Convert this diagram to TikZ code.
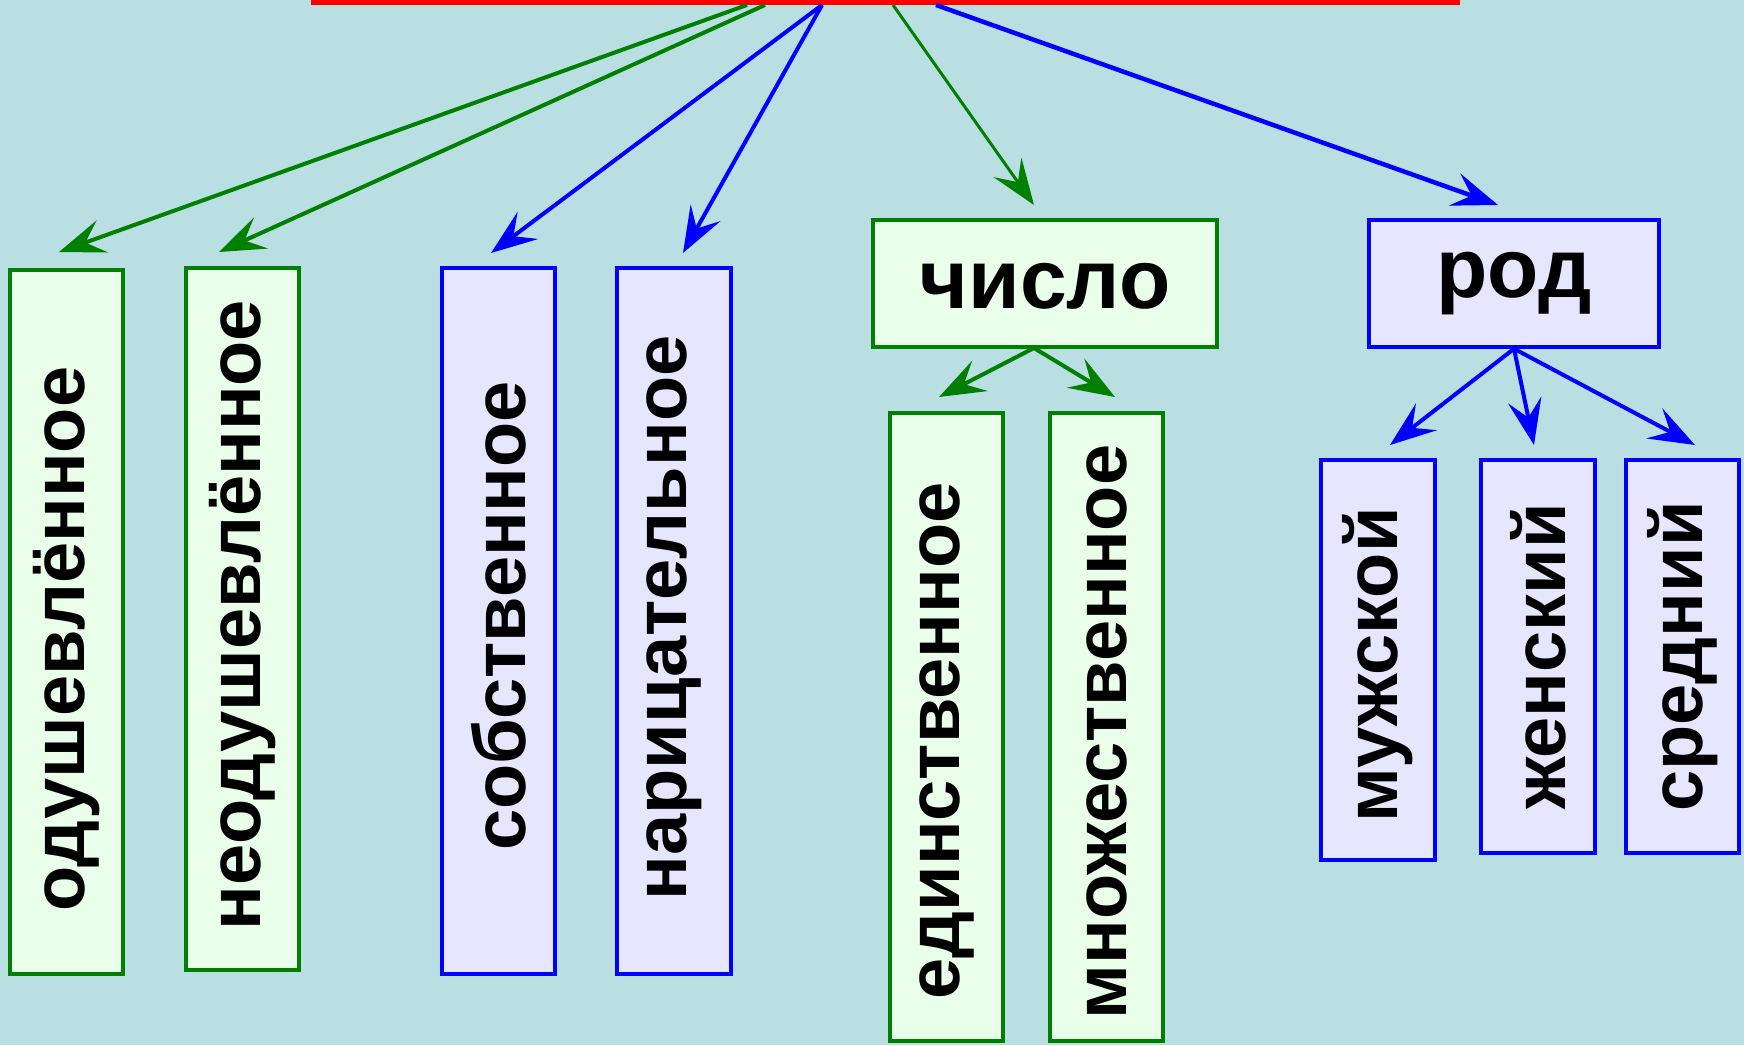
\documentclass[tikz,border=0pt]{standalone}
\usepackage{fontspec}
\setmainfont{Liberation Sans}
\usetikzlibrary{arrows.meta}
\definecolor{bgc}{RGB}{185,223,227}
\definecolor{gline}{RGB}{0,128,0}
\definecolor{gfill}{RGB}{234,255,234}
\definecolor{bline}{RGB}{0,0,255}
\definecolor{bfill}{RGB}{230,230,255}
\tikzset{
  gbox/.style={draw=gline, fill=gfill, line width=3.5pt, inner sep=0pt},
  bbox/.style={draw=bline, fill=bfill, line width=3.5pt, inner sep=0pt},
  vtext/.style={rotate=90, font=\fontsize{74}{78}\selectfont\bfseries},
  htext/.style={font=\fontsize{84}{88}\selectfont\bfseries},
  garrow/.style={draw=gline, line width=4pt, -{Stealth[length=46pt,width=34pt,inset=18pt]}},
  barrow/.style={draw=bline, line width=4pt, -{Stealth[length=46pt,width=34pt,inset=18pt]}},
}
\begin{document}
\begin{tikzpicture}[x=1pt,y=-1pt]
\useasboundingbox[fill=bgc] (0,0) rectangle (1744,1045);
% red top bar
\node[fill=red, inner sep=0pt, minimum width=1149pt, minimum height=10pt] (top) at (885.5,0) {};
% boxes (rotated: width = vertical length)
\node[gbox, vtext, minimum width=704pt, minimum height=113pt] (odu) at (66.5,622) {одушевлённое\hspace*{34pt}};
\node[gbox, vtext, minimum width=702pt, minimum height=113pt] (neodu) at (242.5,619) {\hspace*{8pt}неодушевлённое};
\node[bbox, vtext, minimum width=706pt, minimum height=113pt] (sob) at (498.5,621) {\hspace*{10pt}собственное};
\node[bbox, vtext, minimum width=706pt, minimum height=114pt] (nar) at (674,621) {\hspace*{6pt}нарицательное};
\node[gbox, htext, minimum width=344pt, minimum height=127pt, text height=50pt, text depth=0pt] (chislo) at (1045,283.5) {число};
\node[bbox, htext, minimum width=290pt, minimum height=127pt] (rod) at (1514,283.5) {род};
\node[gbox, vtext, minimum width=628pt, minimum height=113pt] (edin) at (946.5,727) {единственное\hspace*{28pt}};
\node[gbox, vtext, minimum width=628pt, minimum height=113pt] (mnozh) at (1106.5,727) {множественное\hspace*{10pt}};
\node[bbox, vtext, minimum width=400pt, minimum height=114pt] (muzh) at (1378,660) {мужской\hspace*{10pt}};
\node[bbox, vtext, minimum width=393pt, minimum height=114pt] (zhen) at (1538,656.5) {женский};
\node[bbox, vtext, minimum width=393pt, minimum height=113pt] (sred) at (1682.5,656.5) {средний};
% start and end points
\coordinate (s1) at (747,5);
\coordinate (s2) at (765,5);
\coordinate (s3) at (822,5);
\coordinate (s5) at (893,5);
\coordinate (s6) at (936,5);
\coordinate (t1) at (59,252);
\coordinate (t2) at (219,252);
\coordinate (t3) at (491,253);
\coordinate (t4) at (683,253);
\coordinate (t5) at (1034,205);
\coordinate (t6) at (1498,205);
\coordinate (cs) at (1034,348);
\coordinate (t7) at (939,397);
\coordinate (t8) at (1115,397);
\coordinate (t9) at (1390,445);
\coordinate (t10) at (1534,445);
\coordinate (t11) at (1695,445);
% arrows
\draw[garrow] (s1) -- (t1);
\draw[garrow] (s2) -- (t2);
\draw[barrow] (s3) -- (t3);
\draw[barrow] (s3) -- (t4);
\draw[garrow, line width=3pt] (s5) -- (t5);
\draw[barrow, line width=4.5pt] (s6) -- (t6);
\draw[garrow] (cs) -- (t7);
\draw[garrow] (cs) -- (t8);
\draw[barrow] (rod.south) -- (t9);
\draw[barrow] (rod.south) -- (t10);
\draw[barrow] (rod.south) -- (t11);
\end{tikzpicture}
\end{document}
